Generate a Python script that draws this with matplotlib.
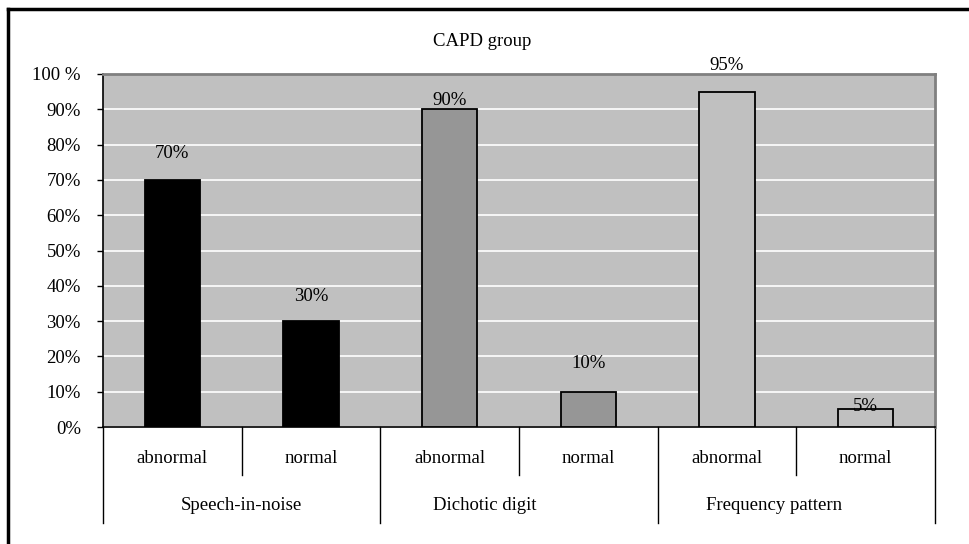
import matplotlib.pyplot as plt
from matplotlib.lines import Line2D

plt.rcParams['font.family'] = ['Liberation Serif', 'DejaVu Serif']

# data
tests = ['Speech-in-noise', 'Dichotic digit', 'Frequency pattern']
results = ['abnormal', 'normal', 'abnormal', 'normal', 'abnormal', 'normal']
values = [70, 30, 90, 10, 95, 5]
bar_colors = ['#000000', '#000000', '#969696', '#969696', '#c0c0c0', '#c0c0c0']
label_y = [77.6, 37.1, 92.6, 18.1, 102.3, 5.7]  # where Excel put the labels
test_label_x = [0.5, 2.25, 4.34]  # Excel didn't quite center these

FS = 13.5

fig = plt.figure(figsize=(9.7, 5.44), dpi=100)
ax = fig.add_axes([103 / 970, 1 - 427 / 544, 832 / 970, 353 / 544])

x = list(range(len(values)))
ax.set_facecolor('#c0c0c0')
ax.bar(x, values, width=0.4, color=bar_colors, edgecolor='black', linewidth=1.3, zorder=3)
for xi, v, ly in zip(x, values, label_y):
    ax.text(xi, ly, f'{v}%', ha='center', va='center', fontsize=FS, zorder=4)

ax.set_xlim(-0.5, 5.5)
ax.set_ylim(0, 100)
ax.set_yticks(range(0, 101, 10))
ax.set_yticklabels([f'{t}%' if t < 100 else '100 %' for t in range(0, 101, 10)], fontsize=FS)
ax.yaxis.grid(True, color='white', linewidth=1.2, zorder=0)
ax.set_axisbelow(True)
ax.tick_params(axis='y', length=4.5, width=1, pad=11.5)
ax.set_xticks([])

for s in ['top', 'right']:
    ax.spines[s].set_color('#808080')
    ax.spines[s].set_linewidth(2)
ax.spines['left'].set_color('black')
ax.spines['bottom'].set_color('black')
ax.spines['left'].set_linewidth(1.2)
ax.spines['bottom'].set_linewidth(1.2)

# two level category axis
tr = ax.get_xaxis_transform()
for xi, r in zip(x, results):
    ax.text(xi, -0.088, r, transform=tr, ha='center', va='center', fontsize=FS)
for lx, t in zip(test_label_x, tests):
    ax.text(lx, -0.221, t, transform=tr, ha='center', va='center', fontsize=FS)
for xi in [0.5, 2.5, 4.5]:
    ax.add_line(Line2D([xi, xi], [0, -0.136], transform=tr, color='black', lw=1, clip_on=False))
for xi in [-0.5, 1.5, 3.5, 5.5]:
    ax.add_line(Line2D([xi, xi], [0, -0.272], transform=tr, color='black', lw=1, clip_on=False))

fig.text(482 / 970, 1 - 42 / 544, 'CAPD group', ha='center', va='center', fontsize=FS)

# outer chart border (only top and left visible)
fig.add_artist(Line2D([8 / 970, 8 / 970], [0, 1 - 9 / 544], color='black', lw=2.5))
fig.add_artist(Line2D([8 / 970, 1], [1 - 9 / 544, 1 - 9 / 544], color='black', lw=2.5))

fig.savefig('out.png', dpi=100)
